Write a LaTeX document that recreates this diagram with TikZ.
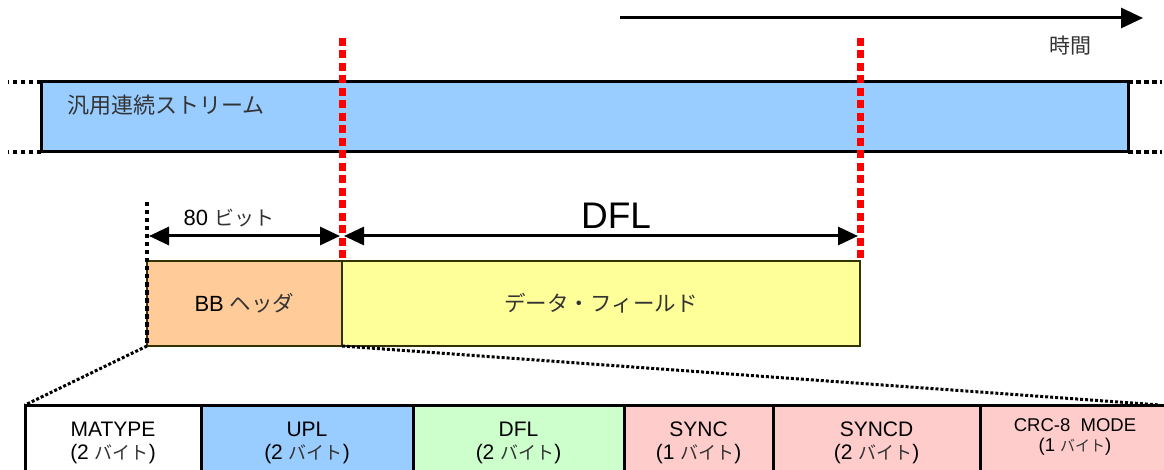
\documentclass[tikz,border=0pt]{standalone}
\usepackage{fontspec}
\setmainfont{Liberation Sans}
\newfontfamily\jp{Noto Sans CJK JP}
\usetikzlibrary{arrows.meta}
\definecolor{streamblue}{HTML}{99CCFF}
\definecolor{bborange}{HTML}{FFCC99}
\definecolor{datayellow}{HTML}{FFFF99}
\definecolor{dflgreen}{HTML}{CCFFCC}
\definecolor{syncpink}{HTML}{FFCCCC}
\definecolor{olive}{HTML}{333300}
\definecolor{kanagray}{HTML}{333333}
\newcommand{\kana}[1]{{\jp\color{kanagray}\fontsize{18}{22}\selectfont #1}}
\begin{document}
\begin{tikzpicture}[x=1pt,y=-1pt,
  box/.style={draw=olive, line width=2pt, anchor=north west, inner sep=0pt, outer sep=0pt},
  field/.style={draw=black, line width=3pt, anchor=north west, inner sep=0pt, outer sep=0pt, minimum height=70pt},
  dotblk/.style={line width=4pt, dash pattern=on 4.5pt off 3.5pt},
  reddot/.style={red, line width=7pt, dash pattern=on 8pt off 4.5pt},
  slant/.style={line width=3pt, dash pattern=on 3pt off 2pt},
  lbl/.style={font=\fontsize{21}{23}\selectfont, align=center, inner sep=0pt},
  bigarrow/.style={line width=3pt, -{Triangle[length=22pt,width=20pt]}},
  dimarrow/.style={line width=3pt, {Triangle[length=20pt,width=18pt]}-{Triangle[length=20pt,width=18pt]}}
]
\useasboundingbox (0,0) rectangle (1164,470);
\clip (0,0) rectangle (1164,470);

% time arrow
\coordinate (t0) at (620,18);
\coordinate (t1) at (1143,18);
\draw[bigarrow] (t0) -- (t1);
\node[font=\jp\fontsize{21}{24}\selectfont, text=kanagray] (jikan) at (1070,46) {時間};

% stream
\node[draw, line width=3pt, fill=streamblue, anchor=north west, inner sep=0pt, outer sep=0pt,
      minimum width=1087pt, minimum height=70pt] (stream) at (41,82) {};
\coordinate (sl1) at (8,82);
\coordinate (sl2) at (8,152);
\coordinate (sr1) at (1162,82);
\coordinate (sr2) at (1162,152);
\draw[dotblk] (stream.north west) -- (sl1);
\draw[dotblk] (stream.south west) -- (sl2);
\draw[dotblk] (stream.north east) -- (sr1);
\draw[dotblk] (stream.south east) -- (sr2);
\node[anchor=west, font=\jp\fontsize{22}{24}\selectfont, text=kanagray, inner sep=0pt] (streamtxt) at (67,105) {汎用連続ストリーム};

% BB header and data field
\node[box, fill=bborange, minimum width=195pt, minimum height=85pt,
      font=\fontsize{22}{24}\selectfont] (bb) at (147,261) {BB {\jp\color{kanagray}\fontsize{21.5}{24}\selectfont ヘッダ}};
\node[box, fill=datayellow, minimum width=518pt, minimum height=85pt,
      font=\jp\fontsize{21.5}{24}\selectfont, text=kanagray] (data) at (342,261) {データ・フィールド};

% red boundaries
\coordinate (r1a) at (342,38);
\coordinate (r1b) at (342,258);
\coordinate (r2a) at (860,38);
\coordinate (r2b) at (860,258);
\draw[reddot] (r1a) -- (r1b);
\draw[reddot] (r2a) -- (r2b);

% black dotted left boundary
\coordinate (bl) at (147,202);
\draw[dotblk, line width=3.5pt] (bl) -- (bb.south west);

% dimension arrows
\coordinate (d0) at (149,236);
\coordinate (d1) at (340,236);
\coordinate (d2) at (344,236);
\coordinate (d3) at (858,236);
\draw[dimarrow] (d0) -- (d1);
\draw[dimarrow] (d2) -- (d3);
\node[font=\fontsize{22}{24}\selectfont] (bits) at (229,218) {80 {\jp\color{kanagray}\fontsize{20}{24}\selectfont ビット}};
\node[font=\fontsize{37}{40}\selectfont] (dfllbl) at (616,216) {DFL};

% bottom fields
\node[field, fill=white, minimum width=176pt] (matype) at (25,405) {};
\node[field, fill=streamblue, minimum width=212pt] (upl) at (201,405) {};
\node[field, fill=dflgreen, minimum width=211pt] (dfl) at (413,405) {};
\node[field, fill=syncpink, minimum width=149pt] (sync) at (624,405) {};
\node[field, fill=syncpink, minimum width=207pt] (syncd) at (773,405) {};
\node[field, fill=syncpink, minimum width=190pt] (crc) at (980,405) {};

\node[lbl] (tmatype) at ([yshift=-38pt]matype.north) {MATYPE\\(2 \kana{バイト})};
\node[lbl] (tupl) at ([yshift=-38pt]upl.north) {UPL\\(2 \kana{バイト})};
\node[lbl] (tdfl) at ([yshift=-38pt]dfl.north) {DFL\\(2 \kana{バイト})};
\node[lbl] (tsync) at ([yshift=-38pt]sync.north) {SYNC\\(1 \kana{バイト})};
\node[lbl] (tsyncd) at ([yshift=-38pt]syncd.north) {SYNCD\\(2 \kana{バイト})};
\node[lbl, font=\fontsize{18.5}{20}\selectfont] (tcrc) at (1075,437) {CRC-8\ \ MODE\\(1 {\jp\color{kanagray}\fontsize{15}{18}\selectfont バイト})};

% slanted dotted expansion lines
\coordinate (ex1) at (25,405);
\coordinate (ex2) at (1160,405);
\draw[slant] (bb.south west) -- (ex1);
\draw[slant] (bb.south east) -- (ex2);
\end{tikzpicture}
\end{document}
